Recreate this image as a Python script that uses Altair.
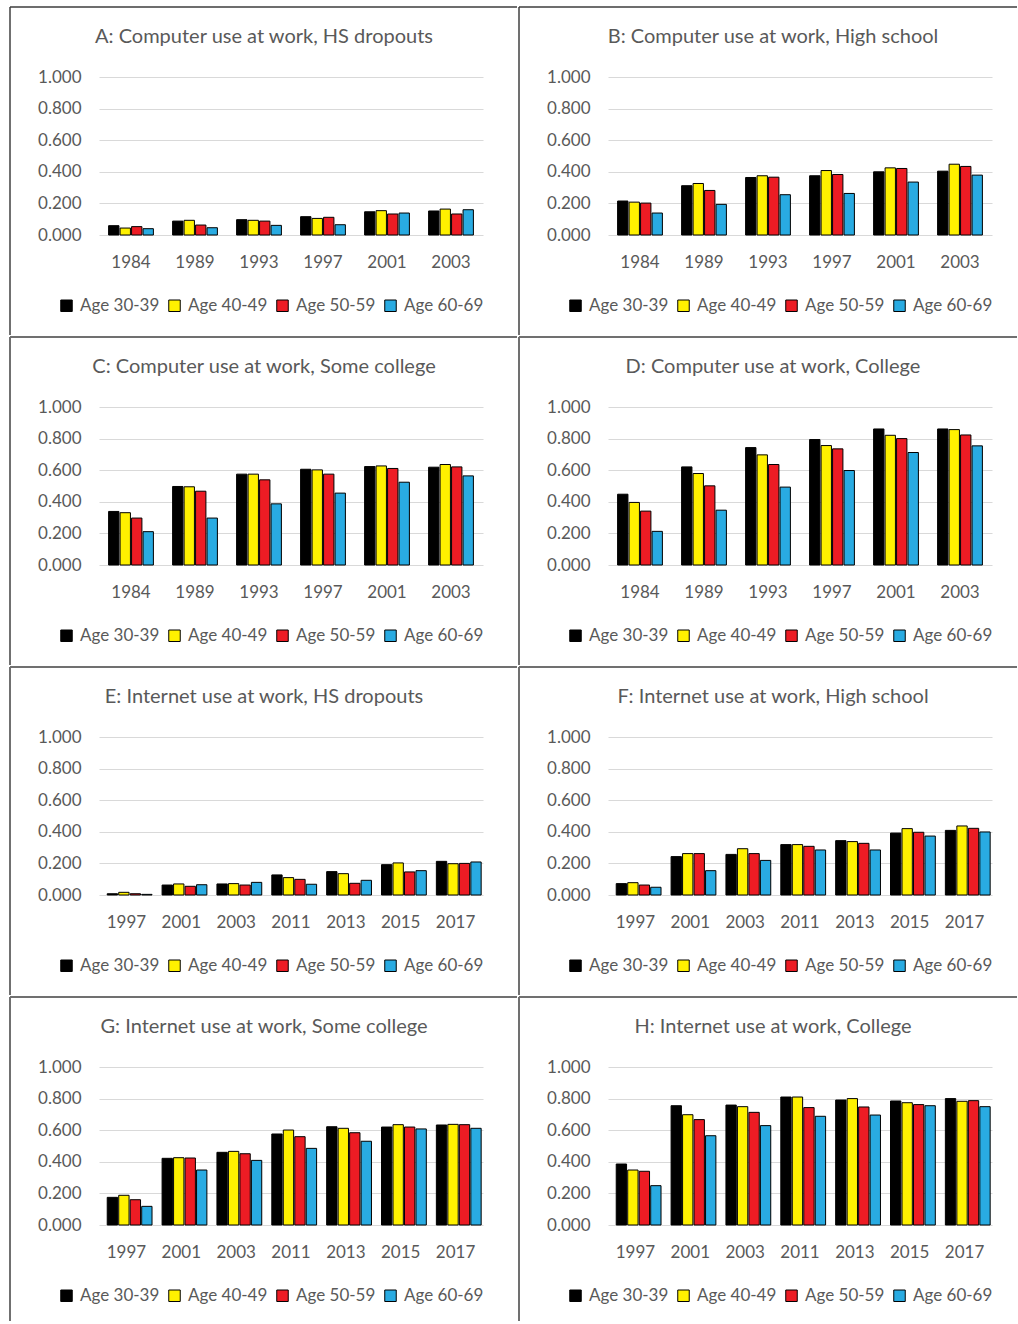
import altair as alt
import pandas as pd

# Categories
ages = ["Age 30-39", "Age 40-49", "Age 50-59", "Age 60-69"]
age_colors = ["#000000", "#FFF100", "#ED1C24", "#29ABE2"]
computer_years = ["1984", "1989", "1993", "1997", "2001", "2003"]
internet_years = ["1997", "2001", "2003", "2011", "2013", "2015", "2017"]
y_ticks = [0.0, 0.2, 0.4, 0.6, 0.8, 1.0]

# A: Computer use at work, HS dropouts
a_30 = [0.059, 0.088, 0.097, 0.116, 0.147, 0.152]
a_40 = [0.044, 0.093, 0.093, 0.105, 0.154, 0.164]
a_50 = [0.053, 0.063, 0.088, 0.112, 0.133, 0.133]
a_60 = [0.040, 0.046, 0.061, 0.065, 0.139, 0.160]

# B: Computer use at work, High school
b_30 = [0.215, 0.312, 0.364, 0.375, 0.400, 0.404]
b_40 = [0.208, 0.326, 0.375, 0.408, 0.425, 0.448]
b_50 = [0.202, 0.282, 0.366, 0.383, 0.421, 0.434]
b_60 = [0.139, 0.194, 0.255, 0.263, 0.335, 0.379]

# C: Computer use at work, Some college
c_30 = [0.339, 0.497, 0.575, 0.606, 0.623, 0.619]
c_40 = [0.331, 0.495, 0.575, 0.602, 0.627, 0.636]
c_50 = [0.297, 0.467, 0.539, 0.575, 0.611, 0.621]
c_60 = [0.211, 0.297, 0.387, 0.455, 0.524, 0.564]

# D: Computer use at work, College
d_30 = [0.448, 0.621, 0.743, 0.794, 0.861, 0.861]
d_40 = [0.396, 0.579, 0.697, 0.756, 0.821, 0.857]
d_50 = [0.341, 0.501, 0.636, 0.735, 0.800, 0.823]
d_60 = [0.213, 0.347, 0.493, 0.598, 0.712, 0.754]

# E: Internet use at work, HS dropouts
e_30 = [0.008, 0.063, 0.070, 0.127, 0.148, 0.192, 0.213]
e_40 = [0.017, 0.070, 0.072, 0.110, 0.135, 0.203, 0.198]
e_50 = [0.008, 0.055, 0.063, 0.099, 0.074, 0.146, 0.200]
e_60 = [0.004, 0.065, 0.080, 0.068, 0.093, 0.154, 0.209]

# F: Internet use at work, High school
f_30 = [0.072, 0.243, 0.257, 0.319, 0.344, 0.392, 0.409]
f_40 = [0.078, 0.262, 0.293, 0.319, 0.338, 0.420, 0.437]
f_50 = [0.063, 0.262, 0.262, 0.308, 0.327, 0.397, 0.422]
f_60 = [0.049, 0.154, 0.219, 0.285, 0.285, 0.373, 0.399]

# G: Internet use at work, Some college
g_30 = [0.175, 0.422, 0.460, 0.576, 0.622, 0.620, 0.633]
g_40 = [0.188, 0.426, 0.466, 0.601, 0.612, 0.635, 0.637]
g_50 = [0.160, 0.424, 0.451, 0.559, 0.584, 0.620, 0.635]
g_60 = [0.118, 0.348, 0.409, 0.485, 0.530, 0.608, 0.612]

# H: Internet use at work, College
h_30 = [0.386, 0.755, 0.759, 0.810, 0.791, 0.785, 0.800]
h_40 = [0.348, 0.698, 0.749, 0.810, 0.800, 0.774, 0.783]
h_50 = [0.340, 0.667, 0.713, 0.743, 0.747, 0.762, 0.787]
h_60 = [0.249, 0.565, 0.629, 0.688, 0.696, 0.755, 0.749]

panels = [
    ("A: Computer use at work, HS dropouts", computer_years, [a_30, a_40, a_50, a_60]),
    ("B: Computer use at work, High school", computer_years, [b_30, b_40, b_50, b_60]),
    ("C: Computer use at work, Some college", computer_years, [c_30, c_40, c_50, c_60]),
    ("D: Computer use at work, College", computer_years, [d_30, d_40, d_50, d_60]),
    ("E: Internet use at work, HS dropouts", internet_years, [e_30, e_40, e_50, e_60]),
    ("F: Internet use at work, High school", internet_years, [f_30, f_40, f_50, f_60]),
    ("G: Internet use at work, Some college", internet_years, [g_30, g_40, g_50, g_60]),
    ("H: Internet use at work, College", internet_years, [h_30, h_40, h_50, h_60]),
]

W, H = 384, 158
FONT = "Lato"
TEXT = "#595959"
FRAME = "#707070"
one_row = alt.Data(values=[{"k": 0}])


def frame_rule(color=FRAME, width=2, opacity=1.0):
    return alt.Chart(one_row).mark_rule(color=color, strokeWidth=width, strokeOpacity=opacity)


def make_panel(title, years, series, col, row):
    records = [
        {"year": y, "age": a, "share": v}
        for a, vals in zip(ages, series)
        for y, v in zip(years, vals)
    ]
    df = pd.DataFrame(records)

    bars = alt.Chart(df).mark_bar(stroke="black", strokeWidth=1).encode(
        x=alt.X(
            "year:N", sort=years, title=None,
            scale=alt.Scale(paddingInner=0.3, paddingOuter=0.15),
            axis=alt.Axis(labelAngle=0, ticks=False, domain=False, grid=False,
                          labelPadding=19),
        ),
        xOffset=alt.XOffset("age:N", sort=ages, scale=alt.Scale(paddingInner=0.1)),
        y=alt.Y(
            "share:Q", title=None,
            scale=alt.Scale(domain=[0, 1], nice=False),
            axis=alt.Axis(values=y_ticks, format=".3f", ticks=False, domain=False,
                          labelPadding=18, gridColor="#d9d9d9", gridWidth=1),
        ),
        color=alt.Color(
            "age:N", sort=ages,
            scale=alt.Scale(domain=ages, range=age_colors),
            legend=alt.Legend(
                title=None, orient="none", legendX=-41, legendY=220,
                direction="horizontal", columns=4,
                symbolType="square", symbolSize=132,
                symbolStrokeColor="black", symbolStrokeWidth=1,
                labelOffset=5, columnPadding=6, padding=0,
                labelFont=FONT, labelFontSize=17, labelColor=TEXT,
            ),
        ),
    )

    # panel heading, centred over the whole cell
    heading = alt.Chart(one_row).mark_text(
        font=FONT, fontSize=20, color=TEXT, align="center", baseline="middle"
    ).encode(x=alt.value(W / 2 - 27), y=alt.value(-40), text=alt.value(title))

    last_row = row == 3
    layers = [bars, heading]
    # left border of the panel
    layers.append(frame_rule().encode(
        x=alt.value(-89), y=alt.value(-70), y2=alt.value(H + (96 if last_row else 100))))
    # top border of the panel
    top_color = "#3c3c3c" if row == 0 else FRAME
    top_width = 1.5 if row == 0 else 2
    layers.append(frame_rule(color=top_color, width=top_width).encode(
        y=alt.value(-70), x=alt.value(-89), x2=alt.value(W + (25 if col == 1 else 34))))
    # invisible edges that fix the size of each grid cell
    if col == 0:
        layers.append(frame_rule(opacity=0).encode(
            x=alt.value(W + 33), y=alt.value(0), y2=alt.value(10)))
    if not last_row:
        layers.append(frame_rule(opacity=0).encode(
            y=alt.value(H + 100.3), x=alt.value(0), x2=alt.value(10)))

    return alt.layer(*layers).properties(width=W, height=H)


rows = []
for r in range(4):
    cells = [make_panel(*panels[2 * r + c], col=c, row=r) for c in range(2)]
    rows.append(alt.hconcat(*cells, spacing=0).resolve_scale(color="independent"))

chart = (
    alt.vconcat(*rows, spacing=0)
    .resolve_scale(color="independent")
    .properties(padding={"left": 9, "top": 6, "right": 0, "bottom": 0},
                background="white")
    .configure_view(strokeWidth=0)
    .configure_axis(labelFont=FONT, labelFontSize=17, labelColor=TEXT)
)

chart.save("out.html", embed_options={"renderer": "svg", "actions": False})
